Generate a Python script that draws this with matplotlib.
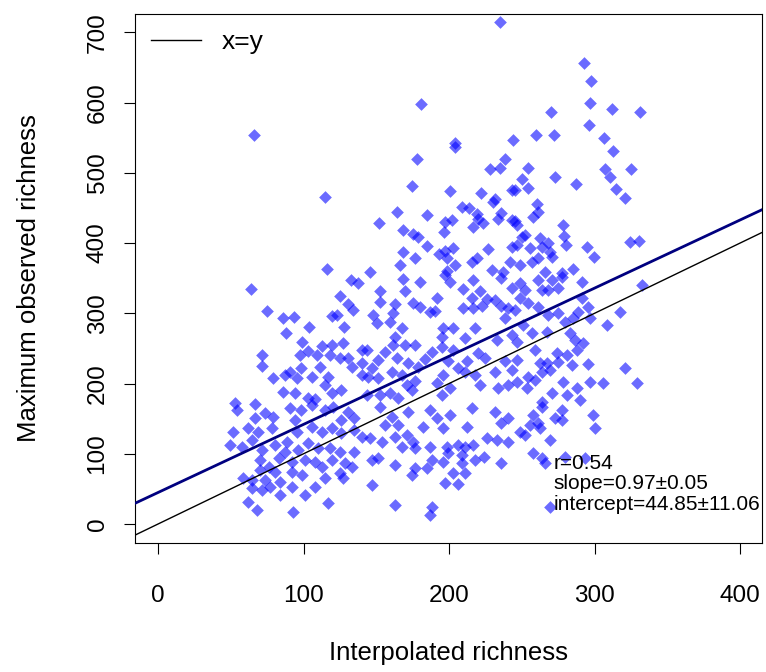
import matplotlib
matplotlib.use("Agg")
import matplotlib.pyplot as plt
import numpy as np

plt.rcParams['font.family'] = ['Liberation Sans', 'DejaVu Sans']

# Scatter values (interpolated richness, maximum observed richness)
pts = [
    (235,715),(181,598),(204,543),(244,546),(66,554),
    (292.8,656.7),(297.6,631),(296.9,599.7),(312,591),(331,587),(270,587),(296,568),(260,554),(272,554),(306.5,550),
    (115,466),(116,363),
    (204,536),(178,519),(238.5,520),(228,506),(235,507),(174.6,481),(200.7,474),(222,471),(231.6,463),(230,459),
    (243,476),(164,444),(185,440),(209,451),(214,450),(219,442),(220,434),(223,429),(216.5,423),(236,443),(233.7,434),
    (243,433),(152,429),(197,430),(202,433),(196.6,416),(168,419),(175,413),(178.7,409),(185,396),(168,387),(176.6,379),
    (193,385),(197,389),(203,393),(198.6,379),(204,369),(219,379),(216,373),(227,392),(243,395),(242,373),(198.6,360),
    (166,369),(146,359),(229.6,362),(237,359),
    (312.7,531),(254,507),(250,491),(273,494),(307,506),(310.6,494),(325,506),(287,484),(254,479),(245,476),(315,477),
    (321,464),(260.5,456),(261,444),(257.7,437),(245,432),(247,426),(278,426),(279,410),(280,397),(252,412),(250,409),
    (262.5,407),(268,400),(269.4,387),(264,395),(255.7,393),(246.7,397),(261,379),(271,380),(295,395),(299.7,380),
    (324,402),(330.6,403),(285,363),(277.7,357),(266,359),(249,369),(257,373),
    (64,335),(75,303),(86,293),(93.5,295),(88,272),(104,281),(125,325),(132.6,348),(137.5,343),(130.6,313),(134,305),
    (119.6,296),(123,298),(127.8,281),(99,259),(127,258),(113,253),(119.6,255),(97.6,241),(103,246),(71.5,241),
    (71.5,225),(109,241),(118,241),(125,236),(130.6,236),(140,248),(140,229),(133,224),(111,224),(98,222),(90.7,216.5),
    (87,212),(79,208),(95.5,208),(106,209),(117,209),(115,198),(140,212),(126,191),(119.6,187),(86,188),(94,187),
    (103,180),(108,178),(53,172),(66.7,171),
    (168.4,349),(180,345),(200.7,345),(197,355),(152.6,332),(169.8,331),(192,322),(209.6,335),(216.5,348),(236,350),
    (243,336),(221,332),(216,322),(226,320),(231.6,319),(236,310.5),(240.5,307.7),(175,315),(180,309),(163,313),
    (152.6,316),(147.8,298),(161.5,300.6),(187,302),(190,303),(209.6,307.7),(216.5,307.7),(222.7,310.5),(150.5,286),
    (159.5,288),(167.7,279),(238.5,293),(196,279),(202.7,279),(217.8,279),(211,265),(195,266),(163,266),(233,262),
    (243,269),(176.6,255),(169.8,255),(161.5,255),(195,252),(202.7,248),(188,245),(220,243.6),(143.6,248),(156,245),
    (151,233.6),(164,236),(183.5,235),(199,232),(212,232),(224.7,236),(238.5,232),(147,222),(161,216.5),(172,229),
    (178.7,223.6),(206,222),(211,216.5),(231.6,216.5),(243,219),(151,208),(167.7,212),(171,198),(174.6,191),(176.6,203),
    (191.8,200.9),(196,212),(200.7,193.7),(195,183.8),(217.8,212),(221,198),(233.7,193.7),(240.5,198),(159.5,186.6),
    (165,179.5),(144.3,209),(143.6,183.8),(152.6,183.8),
    (249,343),(261,347.6),(271,347.6),(277.7,351.9),(291,345),(252,333),(264,333),(268,333),(275,336),(332.6,340),
    (254,315),(261,309),(249,322),(245,305),(291,322),(288.7,302),(295.5,309),(297,293),(285,293),(279.7,287.7),
    (268,297.7),(275,300.6),(317.5,302),(308.6,283.5),(250.9,283.5),(257,272),(267.4,273.5),(283,272),(286.6,262),
    (292,258),(247,259),(259,248),(274,243.6),(281,240.7),(288,248),(247,233.6),(262.5,229),(267.4,229),(275,230.8),
    (284.5,226.5),(295.5,228),(321,222),(264,216.5),(269.4,219),(254,209),(259,205),(278,202),(288,193.7),(297,202),
    (306,200.9),(329,200.9),(247,202),(253.6,193.7),(271,186.6),(281,183.8),(290,176.6),(264,173.8),
    (54,162),(66.7,151),(73.5,158),(79,152),(90.7,165),(98,162),(106,169.5),(120,166.7),(115,162),(130.6,159.5),
    (135,151),(126,148),(51.5,131),(62,136.8),(68.7,131),(78,136.8),(94,148),(95.5,131),(106,138),(112.7,131),
    (119.6,136.8),(126,129.6),(135,133.9),(140,124),(49.5,112.5),(57.7,109.7),(64.6,119.7),(71.5,105.4),(80.4,112.5),
    (88.7,116.8),(87,102.6),(96,105.4),(103,115.4),(109.6,108.3),(118,108.3),(125,102.6),(135,102.6),(70,91),(76,81),
    (83,94),(92,88),(101,91),(108,88),(112.7,81),(119.6,91),(128.5,87),(133,81),(70,77),(80.4,74),(92,74),(99,70),
    (58.4,65.5),(64.6,62.7),(73.5,62.7),(84,59.8),(115,65.5),(125,72.6),(127,65.5),(64.6,51.3),(71.5,48.4),(77,52.7),
    (84,41.3),(92,52.7),(101,41.3),(108,52.7),(62,31.3),(68,19.9),(92.8,17),(116.8,29.9),
    (152.6,166.7),(161,152),(172,159.5),(187,162),(191.8,151),(200.7,155),(216,165),(231.6,159.5),(240.5,151),
    (236,143.9),(212,138),(196,136.8),(182,138),(165,141),(156,141),(146,122.5),(154,116.8),(163,124),(171,126.8),
    (175,116.8),(167.7,109.7),(176.6,108.3),(187,109.7),(198.6,109.7),(206,112.5),(211,109.7),(216.5,112.5),
    (226,122.5),(233,119.7),(240.5,116.8),(224,95.4),(199,101),(209,98),(147,91),(151,94),(163,84),(176.6,79.8),
    (185,79.8),(188,91),(196,88),(209,87),(217.8,91),(236,87),(174.6,69.8),(202.7,72.6),(211,72.6),(147,55.6),
    (197,58.4),(206,57),(163,27),(188,24),(187,12.8),
    (257.7,155),(264,166.7),(277.7,162),(299,155),(273,151),(261,143.9),(255.7,141),(262.5,136.8),(277.7,148),
    (300.3,136.8),(249,131),(252,126.8),(269.4,119.7),(257.7,101),(264,94),(266,87),(279.7,95.4),(293.5,94),
    (269.4,24.2),
]
interp_richness = [p[0] for p in pts]
max_observed = [p[1] for p in pts]

slope = 0.97
intercept = 44.85
stats_text = "r=0.54\nslope=0.97\u00b10.05\nintercept=44.85\u00b111.06"

fig = plt.figure(figsize=(7.66, 6.72), dpi=100)
ax = fig.add_axes([135/766, 1-543/672, (762-135)/766, (543-14)/672])
ax.set_xlim(-15.8, 415)
ax.set_ylim(-27, 726)

ax.scatter(interp_richness, max_observed, marker='D', s=42, color='#0000ff',
           alpha=0.58, linewidths=0, zorder=2)

xs = np.array(ax.get_xlim())
ax.plot(xs, xs, color='black', lw=1, label='x=y', zorder=3)
ax.plot(xs, intercept + slope*xs, color='#00007f', lw=2, zorder=3)

ax.legend(loc='upper left', frameon=False, fontsize=19, handlelength=1.9,
          handletextpad=0.8, borderaxespad=0.2, borderpad=0.4)
ax.text(271.5, 100, stats_text, fontsize=15, va='top', ha='left', linespacing=1.1)

ax.set_xticks([0, 100, 200, 300, 400])
ax.set_yticks([0, 100, 200, 300, 400, 500, 600, 700])
ax.tick_params(axis='both', direction='out', length=8, labelsize=17.5)
ax.tick_params(axis='x', pad=22)
ax.tick_params(axis='y', pad=11)
for lab in ax.get_yticklabels():
    lab.set_rotation(90)
    lab.set_va('center')
ax.set_xlabel('Interpolated richness', fontsize=18.5, labelpad=25)
ax.set_ylabel('Maximum observed richness', fontsize=18.5, labelpad=33)

fig.savefig('out.png', dpi=100)
